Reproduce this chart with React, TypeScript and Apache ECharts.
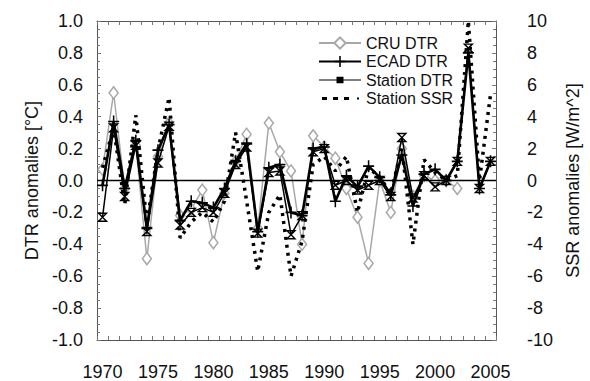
import React, { useEffect, useRef } from "react";
import * as echarts from "echarts";

const years = [
  "1970", "1971", "1972", "1973", "1974", "1975", "1976", "1977", "1978", "1979",
  "1980", "1981", "1982", "1983", "1984", "1985", "1986", "1987", "1988", "1989",
  "1990", "1991", "1992", "1993", "1994", "1995", "1996", "1997", "1998", "1999",
  "2000", "2001", "2002", "2003", "2004", "2005",
];

const cruDtr = [
  0.07, 0.55, -0.05, 0.22, -0.49, 0.15, 0.36, -0.22, -0.18, -0.06,
  -0.39, -0.08, 0.12, 0.29, -0.3, 0.36, 0.18, 0.06, -0.4, 0.28,
  0.21, 0.14, -0.05, -0.23, -0.52, 0.0, -0.2, 0.2, -0.1, 0.03,
  0.0, 0.0, -0.05, null, null, null,
];

const ecadDtr = [
  -0.03, 0.37, -0.05, 0.25, -0.3, 0.19, 0.35, -0.25, -0.13, -0.14,
  -0.17, -0.05, 0.12, 0.23, -0.32, 0.08, 0.1, -0.2, -0.22, 0.2,
  0.21, -0.13, 0.03, -0.04, 0.09, 0.02, -0.09, 0.16, -0.16, 0.04,
  0.07, 0.0, 0.12, 0.8, -0.05, 0.12,
];

const stationDtr = [
  -0.23, 0.33, -0.1, 0.22, -0.32, 0.11, 0.34, -0.28, -0.2, -0.17,
  -0.2, -0.08, 0.1, 0.21, -0.33, 0.05, 0.06, -0.34, -0.22, 0.18,
  0.2, -0.03, 0.0, -0.06, -0.03, 0.0, -0.1, 0.27, -0.11, 0.03,
  -0.04, 0.0, 0.12, 0.83, -0.05, 0.12,
];

const stationSsr = [
  0.8, 3.3, -1.5, 4.1, -2.7, 1.9, 5.2, -3.6, -2.6, -2.0,
  -2.6, -1.3, 3.0, -1.3, -5.7, -2.0, -0.9, -6.0, -3.8, 1.0,
  1.5, 0.6, 1.5, -2.0, 0.8, 0.2, -0.8, 2.0, -4.0, 1.3,
  0.5, 0.0, 0.3, 10.0, 0.0, 5.4,
];

const FONT = "'Liberation Sans', Arial, Helvetica, sans-serif";
const AXIS_COLOR = "#555";
const TICK_COLOR = "#777";

const plusPath = "path://M4.3,0H5.7V4.3H10V5.7H5.7V10H4.3V5.7H0V4.3H4.3Z";
const hourglassPath = "path://M0,0H10L0,10H10Z";
const legendStationIcon =
  "path://M0,0H0.01V0.01H0Z M41.99,13.99H42V14H41.99Z M0,6.4H17.5V3.7H24.5V6.4H42V7.6H24.5V10.3H17.5V7.6H0Z";
const legendSsrIcon =
  "path://M0,0H0.01V0.01H0Z M41.99,13.99H42V14H41.99Z M3,5.6H8V8.4H3Z M14,5.6H19V8.4H14Z M25,5.6H30V8.4H25Z M38,6H40V8H38Z";

export default function App() {
  const ref = useRef<HTMLDivElement>(null);

  useEffect(() => {
    if (!ref.current) return;
    const chart = echarts.init(ref.current, null, { renderer: "svg" });

    const xTick = {
      show: true,
      inside: true,
      length: 4,
      interval: 0,
      lineStyle: { color: TICK_COLOR, width: 1 },
    };

    const option: any = {
      animation: false,
      backgroundColor: "#fff",
      textStyle: { fontFamily: FONT },
      grid: { left: 97, right: 73, top: 21, bottom: 41, containLabel: false },
      legend: {
        data: [
          { name: "CRU DTR" },
          { name: "ECAD DTR" },
          {
            name: "Station DTR",
            icon: legendStationIcon,
            itemStyle: { color: "#000", borderWidth: 0, opacity: 1 },
          },
          {
            name: "Station SSR",
            icon: legendSsrIcon,
            itemStyle: { color: "#000", borderWidth: 0, opacity: 1 },
          },
        ],
        orient: "vertical",
        left: 313,
        top: 30,
        itemWidth: 42,
        itemHeight: 14,
        itemGap: 2.5,
        textStyle: { fontSize: 16, color: "#111", fontFamily: FONT, lineHeight: 16 },
      },
      xAxis: [
        {
          type: "category",
          data: years,
          position: "bottom",
          boundaryGap: true,
          axisLine: { show: true, onZero: false, lineStyle: { color: AXIS_COLOR, width: 1 } },
          axisTick: xTick,
          axisLabel: {
            interval: 4,
            margin: 23,
            fontSize: 18,
            color: "#111",
            fontFamily: FONT,
          },
          splitLine: { show: false },
        },
        {
          type: "category",
          data: years,
          position: "top",
          boundaryGap: true,
          axisLine: { show: true, onZero: false, lineStyle: { color: AXIS_COLOR, width: 1 } },
          axisTick: xTick,
          axisLabel: { show: false },
          splitLine: { show: false },
        },
      ],
      yAxis: [
        {
          type: "value",
          position: "left",
          min: -1,
          max: 1,
          interval: 0.2,
          name: "DTR anomalies [°C]",
          nameLocation: "middle",
          nameGap: 55,
          nameTextStyle: { fontSize: 18, color: "#111", fontFamily: FONT },
          axisLine: { show: true, lineStyle: { color: AXIS_COLOR, width: 1 } },
          axisTick: { show: true, inside: true, length: 4, lineStyle: { color: TICK_COLOR } },
          minorTick: { show: true, splitNumber: 4, length: 3, lineStyle: { color: TICK_COLOR } },
          axisLabel: {
            margin: 14,
            fontSize: 18,
            color: "#111",
            fontFamily: FONT,
            formatter: (v: number) => v.toFixed(1),
          },
          splitLine: { show: false },
        },
        {
          type: "value",
          position: "right",
          min: -10,
          max: 10,
          interval: 2,
          name: "SSR anomalies [W/m^2]",
          nameLocation: "middle",
          nameGap: 49,
          nameTextStyle: { fontSize: 18, color: "#111", fontFamily: FONT },
          axisLine: { show: true, lineStyle: { color: AXIS_COLOR, width: 1 } },
          axisTick: { show: true, inside: true, length: 4, lineStyle: { color: TICK_COLOR } },
          minorTick: { show: true, splitNumber: 4, length: 3, lineStyle: { color: TICK_COLOR } },
          axisLabel: {
            margin: 31,
            fontSize: 18,
            color: "#111",
            fontFamily: FONT,
            formatter: (v: number) => String(Math.round(v)),
          },
          splitLine: { show: false },
        },
      ],
      series: [
        {
          name: "CRU DTR",
          type: "line",
          data: cruDtr,
          yAxisIndex: 0,
          symbol: "diamond",
          symbolSize: [9, 12],
          showAllSymbol: true,
          lineStyle: { color: "#a8a8a8", width: 1.5 },
          itemStyle: { color: "#fff", borderColor: "#a8a8a8", borderWidth: 1.5 },
          z: 2,
          markLine: {
            silent: true,
            symbol: ["none", "none"],
            label: { show: false },
            lineStyle: { color: "#000", width: 1.3, type: "solid" },
            data: [{ yAxis: 0 }],
          },
        },
        {
          name: "Station SSR",
          type: "line",
          data: stationSsr,
          yAxisIndex: 1,
          showSymbol: false,
          symbol: "none",
          lineStyle: { color: "#000", width: 3.5, type: [3, 5], cap: "butt" },
          itemStyle: { color: "#000" },
          z: 3,
        },
        {
          name: "Station DTR",
          type: "line",
          data: stationDtr,
          yAxisIndex: 0,
          symbol: hourglassPath,
          symbolSize: [8, 8],
          showAllSymbol: true,
          lineStyle: { color: "#000", width: 1.5 },
          itemStyle: { color: "rgba(0,0,0,0)", borderColor: "#000", borderWidth: 1.4 },
          z: 4,
        },
        {
          name: "ECAD DTR",
          type: "line",
          data: ecadDtr,
          yAxisIndex: 0,
          symbol: plusPath,
          symbolSize: [11, 12],
          showAllSymbol: true,
          lineStyle: { color: "#000", width: 2.6 },
          itemStyle: { color: "#000" },
          z: 5,
        },
      ],
    };

    chart.setOption(option);
    return () => chart.dispose();
  }, []);

  return (
    <div
      ref={ref}
      style={{ position: "fixed", left: 0, top: 0, width: 590, height: 381, background: "#fff" }}
    />
  );
}
